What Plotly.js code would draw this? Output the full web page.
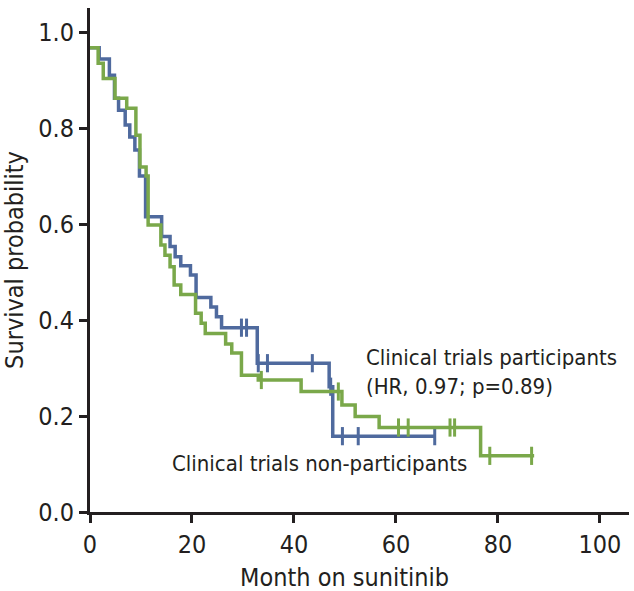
<!DOCTYPE html>
<html>
<head>
<meta charset="utf-8">
<script src="https://cdn.plot.ly/plotly-3.0.1.min.js"></script>
<style>html,body{margin:0;padding:0;background:#fff}#chart{width:634px;height:591px}</style>
</head>
<body>
<div id="chart"></div>
<script>
// Clinical trials participants (blue)
const participantsMonths = [0, 1.8, 3.8, 4.8, 5.6, 6.9, 7.8, 8.8, 9.7, 10.9, 14.05, 15.7, 16.7, 17.8, 19.7, 20.8, 23.7, 24.8, 25.8, 32.8, 46.9, 47.6, 67.6];
const participantsSurv = [0.967, 0.944, 0.910, 0.862, 0.837, 0.806, 0.781, 0.754, 0.700, 0.615, 0.574, 0.553, 0.532, 0.513, 0.494, 0.447, 0.427, 0.407, 0.384, 0.310, 0.261, 0.158, 0.158];
const participantsCensorMonths = [29.7, 30.7, 33.0, 34.8, 43.6, 47.2, 49.5, 52.6, 67.6];
const participantsCensorSurv = [0.384, 0.384, 0.310, 0.310, 0.310, 0.261, 0.158, 0.158, 0.158];

// Clinical trials non-participants (green)
const nonParticipantsMonths = [0, 1.6, 2.6, 4.9, 7.2, 9.0, 9.8, 11.0, 11.4, 13.9, 14.7, 15.7, 16.5, 17.8, 20.7, 21.8, 22.6, 26.6, 27.8, 29.7, 33.0, 41.4, 49.4, 52.0, 56.7, 76.6, 87.1];
const nonParticipantsSurv = [0.967, 0.935, 0.903, 0.862, 0.841, 0.785, 0.719, 0.700, 0.598, 0.556, 0.535, 0.511, 0.473, 0.453, 0.414, 0.393, 0.372, 0.350, 0.331, 0.285, 0.275, 0.251, 0.223, 0.199, 0.176, 0.117, 0.117];
const nonParticipantsCensorMonths = [33.6, 48.7, 60.5, 62.4, 70.6, 71.5, 78.4, 86.6];
const nonParticipantsCensorSurv = [0.275, 0.251, 0.176, 0.176, 0.176, 0.176, 0.117, 0.117];

const xTicks = [0, 20, 40, 60, 80, 100];
const yTicks = [0, 0.2, 0.4, 0.6, 0.8, 1.0];

const BLUE = '#4f6a9e';
const GREEN = '#7aa84a';
const TXT = '#231f20';
const FONT = '"Liberation Sans Narrow", "DejaVu Sans Condensed", "Liberation Sans", sans-serif';

const traces = [
  {x: participantsMonths, y: participantsSurv, type: 'scatter', mode: 'lines',
   line: {shape: 'hv', color: BLUE, width: 3.5}, hoverinfo: 'skip'},
  {x: participantsCensorMonths, y: participantsCensorSurv, type: 'scatter', mode: 'markers',
   marker: {symbol: 'line-ns', size: 13, line: {color: BLUE, width: 3}}, hoverinfo: 'skip'},
  {x: nonParticipantsMonths, y: nonParticipantsSurv, type: 'scatter', mode: 'lines',
   line: {shape: 'hv', color: GREEN, width: 3.5}, hoverinfo: 'skip'},
  {x: nonParticipantsCensorMonths, y: nonParticipantsCensorSurv, type: 'scatter', mode: 'markers',
   marker: {symbol: 'line-ns', size: 13, line: {color: GREEN, width: 3}}, hoverinfo: 'skip'}
];

const layout = {
  width: 634, height: 591,
  margin: {l: 90, r: 5, t: 8, b: 79},
  paper_bgcolor: '#fff', plot_bgcolor: '#fff',
  showlegend: false,
  font: {family: FONT, color: TXT, size: 24},
  xaxis: {
    range: [0, 105.7], tickvals: xTicks, ticktext: xTicks.map(String),
    showgrid: false, zeroline: false, showline: true, linecolor: '#231f20', linewidth: 3,
    ticks: 'outside', ticklen: 8, tickwidth: 3, tickcolor: '#231f20',
    tickfont: {family: FONT, size: 25, color: TXT}
  },
  yaxis: {
    range: [0, 1.05], tickvals: yTicks, ticktext: yTicks.map(v => v.toFixed(1)),
    showgrid: false, zeroline: false, showline: true, linecolor: '#231f20', linewidth: 3,
    ticks: 'outside', ticklen: 8, tickwidth: 3, tickcolor: '#231f20',
    tickfont: {family: FONT, size: 25, color: TXT},
    title: {text: 'Survival probability', font: {family: FONT, size: 25, color: TXT}, standoff: 8}
  },
  annotations: [
    {x: 50, y: 0, xref: 'x', yref: 'paper', xanchor: 'center', yanchor: 'middle', yshift: -65,
     showarrow: false, text: 'Month on sunitinib', font: {family: FONT, size: 25, color: TXT}},
    {x: 53.8, y: 0.292, xref: 'x', yref: 'y', xanchor: 'left', yanchor: 'middle', align: 'left',
     showarrow: false, text: 'Clinical trials participants<br>(HR, 0.97; p=0.89)',
     font: {family: FONT, size: 22, color: TXT}},
    {x: 15.7, y: 0.102, xref: 'x', yref: 'y', xanchor: 'left', yanchor: 'middle', align: 'left',
     showarrow: false, text: 'Clinical trials non-participants',
     font: {family: FONT, size: 22, color: TXT}}
  ]
};

Plotly.newPlot('chart', traces, layout, {displayModeBar: false, staticPlot: true});
</script>
</body>
</html>
